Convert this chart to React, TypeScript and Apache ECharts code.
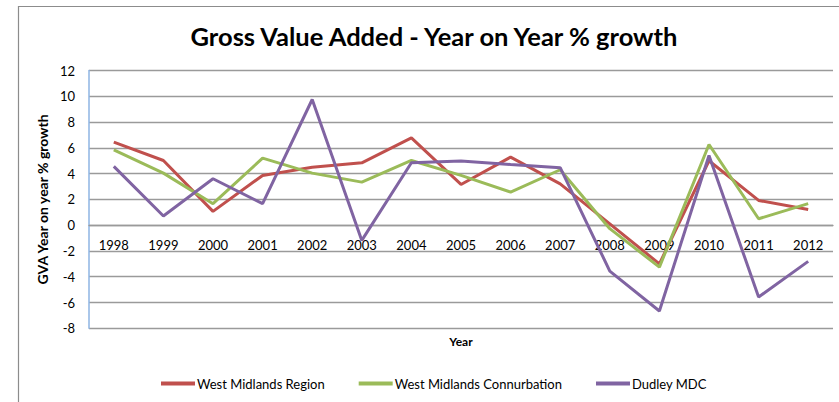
import React, { useEffect, useRef } from "react";
import * as echarts from "echarts";

const years = ["1998","1999","2000","2001","2002","2003","2004","2005","2006","2007","2008","2009","2010","2011","2012"];
const westMidlandsRegion = [6.44, 5.02, 1.07, 3.86, 4.5, 4.84, 6.78, 3.16, 5.28, 3.2, 0.1, -3.0, 5.0, 1.92, 1.22];
const westMidlandsConurbation = [5.85, 4.04, 1.67, 5.2, 4.04, 3.34, 5.02, 3.86, 2.57, 4.3, -0.27, -3.25, 6.26, 0.5, 1.67];
const dudleyMDC = [4.56, 0.71, 3.6, 1.67, 9.75, -1.18, 4.84, 4.97, 4.71, 4.46, -3.56, -6.66, 5.41, -5.57, -2.81];
const seriesNames = ["West Midlands Region", "West Midlands Connurbation", "Dudley MDC"];
const seriesColors = ["#C0504D", "#9BBB59", "#8064A2"];

const FONT = "Lato, 'Liberation Sans', sans-serif";

export default function App() {
  const ref = useRef<HTMLDivElement>(null);
  useEffect(() => {
    if (!ref.current) return;
    const chart = echarts.init(ref.current, undefined, { renderer: "svg" });
    const data = [westMidlandsRegion, westMidlandsConurbation, dudleyMDC];
    chart.setOption({
      animation: false,
      backgroundColor: "#ffffff",
      title: {
        text: "Gross Value Added - Year on Year % growth",
        left: 434,
        textAlign: "center",
        top: 23,
        padding: 0,
        textStyle: { fontFamily: FONT, fontWeight: "bold", fontSize: 25.5, color: "#000" },
      },
      graphic: [
        {
          type: "rect",
          shape: { x: 18.5, y: 6.5, width: 900, height: 600 },
          style: { fill: "none", stroke: "#8c8c8c", lineWidth: 1.2 },
          silent: true,
          z: -1,
        },
      ],
      legend: {
        left: 156,
        top: 372,
        itemWidth: 34,
        itemHeight: 4,
        itemGap: 34,
        icon: "rect",
        textStyle: { fontFamily: FONT, fontSize: 13, color: "#000", padding: [0, 0, 0, -3] },
        data: seriesNames,
      },
      grid: { left: 89, right: 6, top: 70.5, bottom: 73.7, containLabel: false, outerBoundsMode: "none" },
      xAxis: {
        type: "category",
        data: years,
        boundaryGap: true,
        offset: -103.1,
        name: "Year",
        nameLocation: "middle",
        nameGap: 110,
        nameTextStyle: { fontFamily: FONT, fontWeight: "bold", fontSize: 12, color: "#000" },
        axisLine: { onZero: false, lineStyle: { color: "#9a9a9a", width: 1.3 } },
        axisTick: { show: false },
        axisLabel: { fontFamily: FONT, fontSize: 13, color: "#000", margin: 13 },
      },
      yAxis: {
        type: "value",
        min: -8,
        max: 12,
        interval: 2,
        name: "GVA Year on year % growth",
        nameLocation: "middle",
        nameGap: 34,
        nameRotate: 90,
        nameTextStyle: { fontFamily: FONT, fontWeight: "bold", fontSize: 14, color: "#000" },
        axisLine: { show: true, lineStyle: { color: "#8EB4E3", width: 1.5 } },
        axisTick: { show: false },
        axisLabel: { fontFamily: FONT, fontSize: 13, color: "#000", margin: 14 },
        splitLine: { lineStyle: { color: "#9a9a9a", width: 1.3 } },
      },
      series: data.map((d, i) => ({
        name: seriesNames[i],
        type: "line",
        data: d,
        symbol: "none",
        color: seriesColors[i],
        lineStyle: { width: 3, color: seriesColors[i] },
      })),
    });
    return () => chart.dispose();
  }, []);
  return <div ref={ref} style={{ position: "fixed", left: 0, top: 0, width: 839, height: 402 }} />;
}
